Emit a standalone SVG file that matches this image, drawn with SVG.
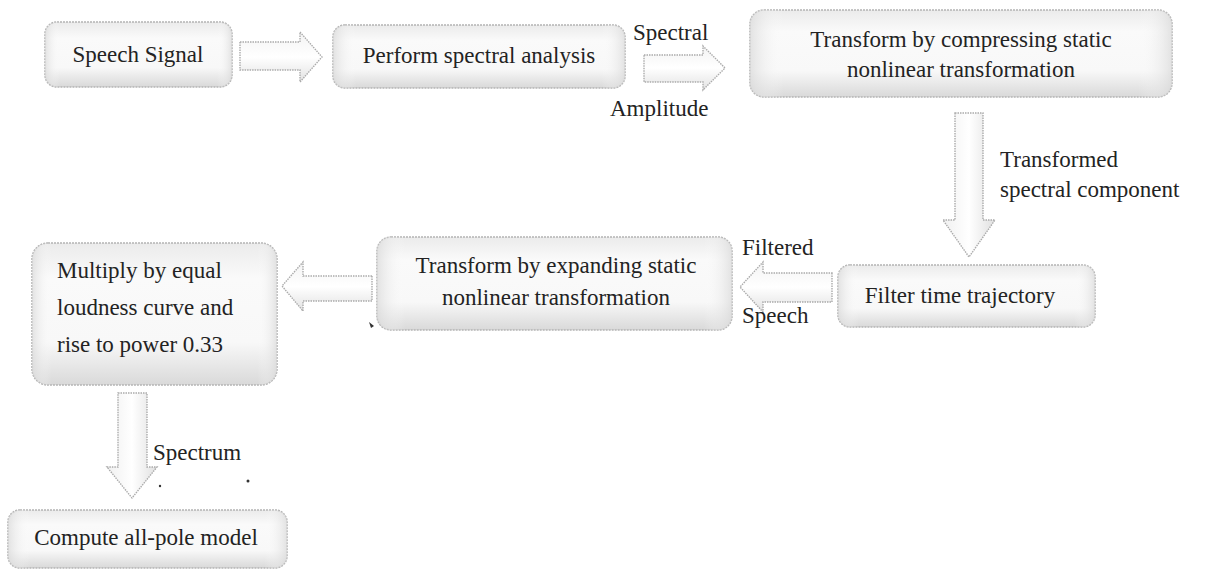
<svg xmlns="http://www.w3.org/2000/svg" width="1205" height="573" viewBox="0 0 1205 573">
  <defs>
    <linearGradient id="boxFill" x1="0" y1="0" x2="0" y2="1">
      <stop offset="0" stop-color="#ebebeb"/>
      <stop offset="0.25" stop-color="#fafafa"/>
      <stop offset="0.7" stop-color="#f8f8f8"/>
      <stop offset="1" stop-color="#d9d9d9"/>
    </linearGradient>
    <linearGradient id="boxSide" x1="0" y1="0" x2="1" y2="0">
      <stop offset="0" stop-color="#d8d8d8" stop-opacity="0.7"/>
      <stop offset="0.08" stop-color="#ffffff" stop-opacity="0"/>
      <stop offset="0.92" stop-color="#ffffff" stop-opacity="0"/>
      <stop offset="1" stop-color="#d8d8d8" stop-opacity="0.7"/>
    </linearGradient>
    <linearGradient id="arrowFill" x1="0" y1="0" x2="0" y2="1">
      <stop offset="0" stop-color="#f3f3f3"/>
      <stop offset="0.5" stop-color="#ffffff"/>
      <stop offset="1" stop-color="#e2e2e2"/>
    </linearGradient>
    <linearGradient id="arrowFillV" x1="0" y1="0" x2="1" y2="0">
      <stop offset="0" stop-color="#f0f0f0"/>
      <stop offset="0.5" stop-color="#ffffff"/>
      <stop offset="1" stop-color="#e0e0e0"/>
    </linearGradient>
  </defs>
  <style>
    .box { fill: url(#boxFill); stroke: #b4b4b4; stroke-width: 1.6; stroke-dasharray: 2 1; }
    .side { fill: url(#boxSide); stroke: none; }
    .arrow { fill: url(#arrowFill); stroke: #ababab; stroke-width: 1.4; stroke-dasharray: 1.5 1; }
    .arrowV { fill: url(#arrowFillV); stroke: #ababab; stroke-width: 1.4; stroke-dasharray: 1.5 1; }
    .t { font-family: 'Liberation Serif', 'Times New Roman', Times, serif; font-size: 23px; fill: #232323; }
    .c { text-anchor: middle; }
    .mark { fill: #333; }
  </style>

  <rect width="1205" height="573" fill="#ffffff"/>

  <!-- connectors: hollow block arrows and their labels -->
  <g id="connectors">
    <path class="arrow" d="M240,42 L300,42 L300,32 L322,57 L300,82 L300,70 L240,70 Z"/>
    <path class="arrow" d="M644,55 L703,55 L703,46 L725,68 L703,90 L703,82 L644,82 Z"/>
    <text class="t" font-family="Liberation Serif, serif" x="633" y="40">Spectral</text>
    <text class="t" font-family="Liberation Serif, serif" x="610" y="116">Amplitude</text>

    <path class="arrowV" d="M955,113 L983,113 L983,220 L995,220 L969,257 L943,220 L955,220 Z"/>
    <text class="t" font-family="Liberation Serif, serif" x="1000" y="167">Transformed</text>
    <text class="t" font-family="Liberation Serif, serif" x="1000" y="197">spectral component</text>

    <path class="arrow" d="M832,273 L832,302 L763,302 L763,312 L740,287 L763,262 L763,273 Z"/>
    <text class="t" font-family="Liberation Serif, serif" x="742" y="255">Filtered</text>
    <text class="t" font-family="Liberation Serif, serif" x="742" y="323">Speech</text>

    <path class="arrow" d="M372,276 L372,301 L303,301 L303,311 L282,286 L303,262 L303,276 Z"/>

    <path class="arrowV" d="M118,393 L147,393 L147,467 L157,467 L132,498 L107,467 L118,467 Z"/>
    <text class="t" font-family="Liberation Serif, serif" x="153" y="460">Spectrum</text>
  </g>

  <!-- process boxes -->
  <g id="speech-signal">
    <rect class="box" x="45" y="22" width="187" height="65" rx="12"/>
    <rect class="side" x="45" y="22" width="187" height="65" rx="12"/>
    <text class="t c" font-family="Liberation Serif, serif" x="138" y="62">Speech Signal</text>
  </g>

  <g id="spectral-analysis">
    <rect class="box" x="333" y="25" width="292" height="63" rx="12"/>
    <rect class="side" x="333" y="25" width="292" height="63" rx="12"/>
    <text class="t c" font-family="Liberation Serif, serif" x="479" y="63">Perform spectral analysis</text>
  </g>

  <g id="compress-transform">
    <rect class="box" x="750" y="10" width="422" height="87" rx="14"/>
    <rect class="side" x="750" y="10" width="422" height="87" rx="14"/>
    <text class="t c" font-family="Liberation Serif, serif" x="961" y="47">Transform by compressing static</text>
    <text class="t c" font-family="Liberation Serif, serif" x="961" y="77">nonlinear transformation</text>
  </g>

  <g id="filter-trajectory">
    <rect class="box" x="838" y="265" width="257" height="62" rx="12"/>
    <rect class="side" x="838" y="265" width="257" height="62" rx="12"/>
    <text class="t c" font-family="Liberation Serif, serif" x="960" y="303">Filter time trajectory</text>
  </g>

  <g id="expand-transform">
    <rect class="box" x="377" y="237" width="355" height="93" rx="14"/>
    <rect class="side" x="377" y="237" width="355" height="93" rx="14"/>
    <text class="t c" font-family="Liberation Serif, serif" x="556" y="273">Transform by expanding static</text>
    <text class="t c" font-family="Liberation Serif, serif" x="556" y="305">nonlinear transformation</text>
  </g>

  <g id="loudness-power">
    <rect class="box" x="32" y="243" width="245" height="142" rx="16"/>
    <rect class="side" x="32" y="243" width="245" height="142" rx="16"/>
    <text class="t" font-family="Liberation Serif, serif" x="57" y="278">Multiply by equal</text>
    <text class="t" font-family="Liberation Serif, serif" x="57" y="315">loudness curve and</text>
    <text class="t" font-family="Liberation Serif, serif" x="57" y="352">rise to power 0.33</text>
  </g>

  <g id="all-pole-model">
    <rect class="box" x="8" y="510" width="279" height="58" rx="12"/>
    <rect class="side" x="8" y="510" width="279" height="58" rx="12"/>
    <text class="t c" font-family="Liberation Serif, serif" x="146" y="545">Compute all-pole model</text>
  </g>

  <!-- small stray marks -->
  <path class="mark" d="M369,322 L374,326 L371,328 Z"/>
  <circle class="mark" cx="160" cy="486" r="1.2"/>
  <circle class="mark" cx="248" cy="481" r="1.5"/>
</svg>
